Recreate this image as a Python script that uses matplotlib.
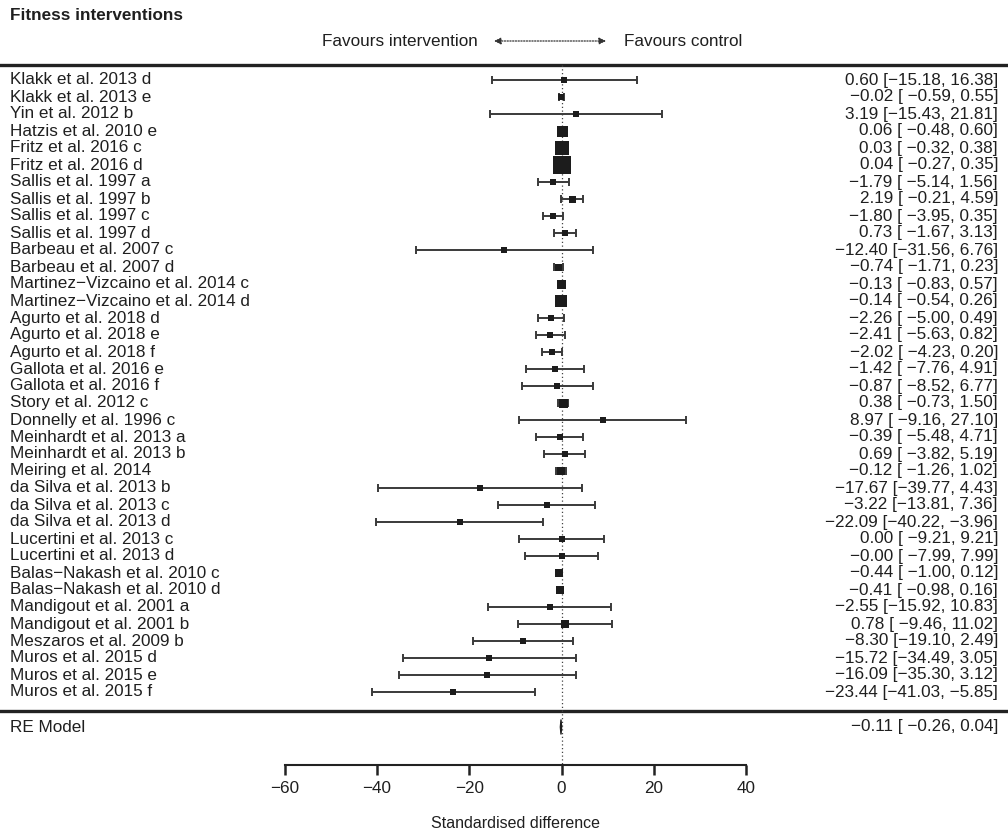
import matplotlib
matplotlib.use("Agg")
import matplotlib.pyplot as plt
from matplotlib.patches import Polygon

plt.rcParams['font.family'] = ['Liberation Sans', 'DejaVu Sans']

title = "Fitness interventions"
header_left = "Favours intervention"
header_right = "Favours control"
xlabel = "Standardised difference"

labels = [
    "Klakk et al. 2013 d", "Klakk et al. 2013 e", "Yin et al. 2012 b", "Hatzis et al. 2010 e",
    "Fritz et al. 2016 c", "Fritz et al. 2016 d", "Sallis et al. 1997 a", "Sallis et al. 1997 b",
    "Sallis et al. 1997 c", "Sallis et al. 1997 d", "Barbeau et al. 2007 c", "Barbeau et al. 2007 d",
    "Martinez\u2212Vizcaino et al. 2014 c", "Martinez\u2212Vizcaino et al. 2014 d",
    "Agurto et al. 2018 d", "Agurto et al. 2018 e", "Agurto et al. 2018 f",
    "Gallota et al. 2016 e", "Gallota et al. 2016 f", "Story et al. 2012 c", "Donnelly et al. 1996 c",
    "Meinhardt et al. 2013 a", "Meinhardt et al. 2013 b", "Meiring et al. 2014",
    "da Silva et al. 2013 b", "da Silva et al. 2013 c", "da Silva et al. 2013 d",
    "Lucertini et al. 2013 c", "Lucertini et al. 2013 d",
    "Balas\u2212Nakash et al. 2010 c", "Balas\u2212Nakash et al. 2010 d",
    "Mandigout et al. 2001 a", "Mandigout et al. 2001 b", "Meszaros et al. 2009 b",
    "Muros et al. 2015 d", "Muros et al. 2015 e", "Muros et al. 2015 f",
]
est = [0.60, -0.02, 3.19, 0.06, 0.03, 0.04, -1.79, 2.19, -1.80, 0.73, -12.40, -0.74,
       -0.13, -0.14, -2.26, -2.41, -2.02, -1.42, -0.87, 0.38, 8.97, -0.39, 0.69, -0.12,
       -17.67, -3.22, -22.09, 0.00, -0.00, -0.44, -0.41, -2.55, 0.78, -8.30,
       -15.72, -16.09, -23.44]
ci_lb = [-15.18, -0.59, -15.43, -0.48, -0.32, -0.27, -5.14, -0.21, -3.95, -1.67, -31.56, -1.71,
         -0.83, -0.54, -5.00, -5.63, -4.23, -7.76, -8.52, -0.73, -9.16, -5.48, -3.82, -1.26,
         -39.77, -13.81, -40.22, -9.21, -7.99, -1.00, -0.98, -15.92, -9.46, -19.10,
         -34.49, -35.30, -41.03]
ci_ub = [16.38, 0.55, 21.81, 0.60, 0.38, 0.35, 1.56, 4.59, 0.35, 3.13, 6.76, 0.23,
         0.57, 0.26, 0.49, 0.82, 0.20, 4.91, 6.77, 1.50, 27.10, 4.71, 5.19, 1.02,
         4.43, 7.36, -3.96, 9.21, 7.99, 0.12, 0.16, 10.83, 11.02, 2.49,
         3.05, 3.12, -5.85]
weights = [5.5, 6.5, 6, 11, 14.5, 18, 6.5, 7, 6.5, 6.5, 5.5, 7,
           9, 12, 6, 6.5, 6.5, 6, 6, 9, 6.5, 6, 6.5, 7.5,
           5.5, 6, 5.5, 6, 6, 8.5, 8.5, 6.5, 7.5, 6.5,
           6, 6, 5.5]
re_label = "RE Model"
re_est, re_lb, re_ub = -0.11, -0.26, 0.04
xticks = [-60, -40, -20, 0, 20, 40]

def fmt(v):
    s = f"{v:.2f}"
    if s.startswith("-"):
        s = "\u2212" + s[1:]
    return s

def annot(e, l, u):
    ls = fmt(l)
    pad = " " * max(0, 6 - len(ls))
    return f"{fmt(e)} [{pad}{ls}, {fmt(u)}]"

W, H = 1008, 832
DPI = 100
X0, PXU = 561.5, 4.61      # pixel of x=0, pixels per unit
Y0, PXR = 80.0, 17.0       # pixel of first row, pixels per row

fig = plt.figure(figsize=(W / DPI, H / DPI), dpi=DPI)
ax = fig.add_axes([0, 0, 1, 1])
ax.set_xlim(-X0 / PXU, (W - X0) / PXU)
ax.set_ylim((H - Y0) / PXR, -Y0 / PXR)

def px_x(p):
    return (p - X0) / PXU

def px_y(p):
    return (p - Y0) / PXR

TXT = "#1f1f1f"
LINE = "#3a3a3a"
FS = 12.3

n = len(labels)
rows = list(range(n))
y_top = px_y(65)
y_sep = px_y(711)
y_re = px_y(727)
y_axis = px_y(765)

# separators
ax.axhline(y_top, color="#222222", lw=2.4)
ax.axhline(y_sep, color="#222222", lw=2.4)

# reference line
ax.plot([0, 0], [y_top, y_axis], color="#444444", lw=0.9, ls=(0, (1, 2)))

cap = 3.6 / PXR
for i in rows:
    ax.hlines(i, ci_lb[i], ci_ub[i], color=LINE, lw=1.4)
    ax.vlines([ci_lb[i], ci_ub[i]], i - cap, i + cap, color=LINE, lw=1.4)
    ax.scatter([est[i]], [i], marker="s", s=(weights[i] * 0.72) ** 2, color="#1c1c1c",
               linewidths=0, zorder=3)
    ax.text(px_x(10), i, labels[i], ha="left", va="center", fontsize=FS, color=TXT)
    ax.text(px_x(998), i, annot(est[i], ci_lb[i], ci_ub[i]), ha="right", va="center",
            fontsize=FS, color=TXT)

# RE diamond
dh = 7.5 / PXR
ax.add_patch(Polygon([[re_lb, y_re], [re_est, y_re - dh], [re_ub, y_re], [re_est, y_re + dh]],
                     closed=True, facecolor="#1c1c1c", edgecolor="#1c1c1c", lw=0.9, zorder=3))
ax.text(px_x(10), y_re, re_label, ha="left", va="center", fontsize=FS, color=TXT)
ax.text(px_x(998), y_re, annot(re_est, re_lb, re_ub), ha="right", va="center",
        fontsize=FS, color=TXT)

# title and header
ax.text(px_x(10), px_y(16), title, ha="left", va="center", fontsize=FS, fontweight="bold",
        color=TXT)
y_head = px_y(41)
ax.annotate("", xy=(px_x(494), y_head), xytext=(px_x(606), y_head),
            arrowprops=dict(arrowstyle="<|-|>", color="#333333", lw=0.9, ls=(0, (1, 1.2)),
                            mutation_scale=10, shrinkA=0, shrinkB=0))
ax.text(px_x(478), y_head, header_left, ha="right", va="center", fontsize=FS, color=TXT)
ax.text(px_x(624), y_head, header_right, ha="left", va="center", fontsize=FS, color=TXT)

# x axis
for s in ["top", "left", "right"]:
    ax.spines[s].set_visible(False)
ax.spines["bottom"].set_position(("data", y_axis))
ax.spines["bottom"].set_bounds(xticks[0], xticks[-1])
ax.spines["bottom"].set_linewidth(1.5)
ax.spines["bottom"].set_color("#222222")
ax.set_xticks(xticks)
ax.set_xticklabels([fmt(t).replace(".00", "") for t in xticks])
ax.tick_params(axis="x", direction="out", length=7.5, width=1.8, color="#222222",
               labelsize=FS, labelcolor=TXT, pad=4)
ax.set_yticks([])
ax.text(-10, px_y(823), xlabel, ha="center", va="center", fontsize=FS - 0.8, color=TXT)

fig.savefig("out.png", dpi=DPI)
